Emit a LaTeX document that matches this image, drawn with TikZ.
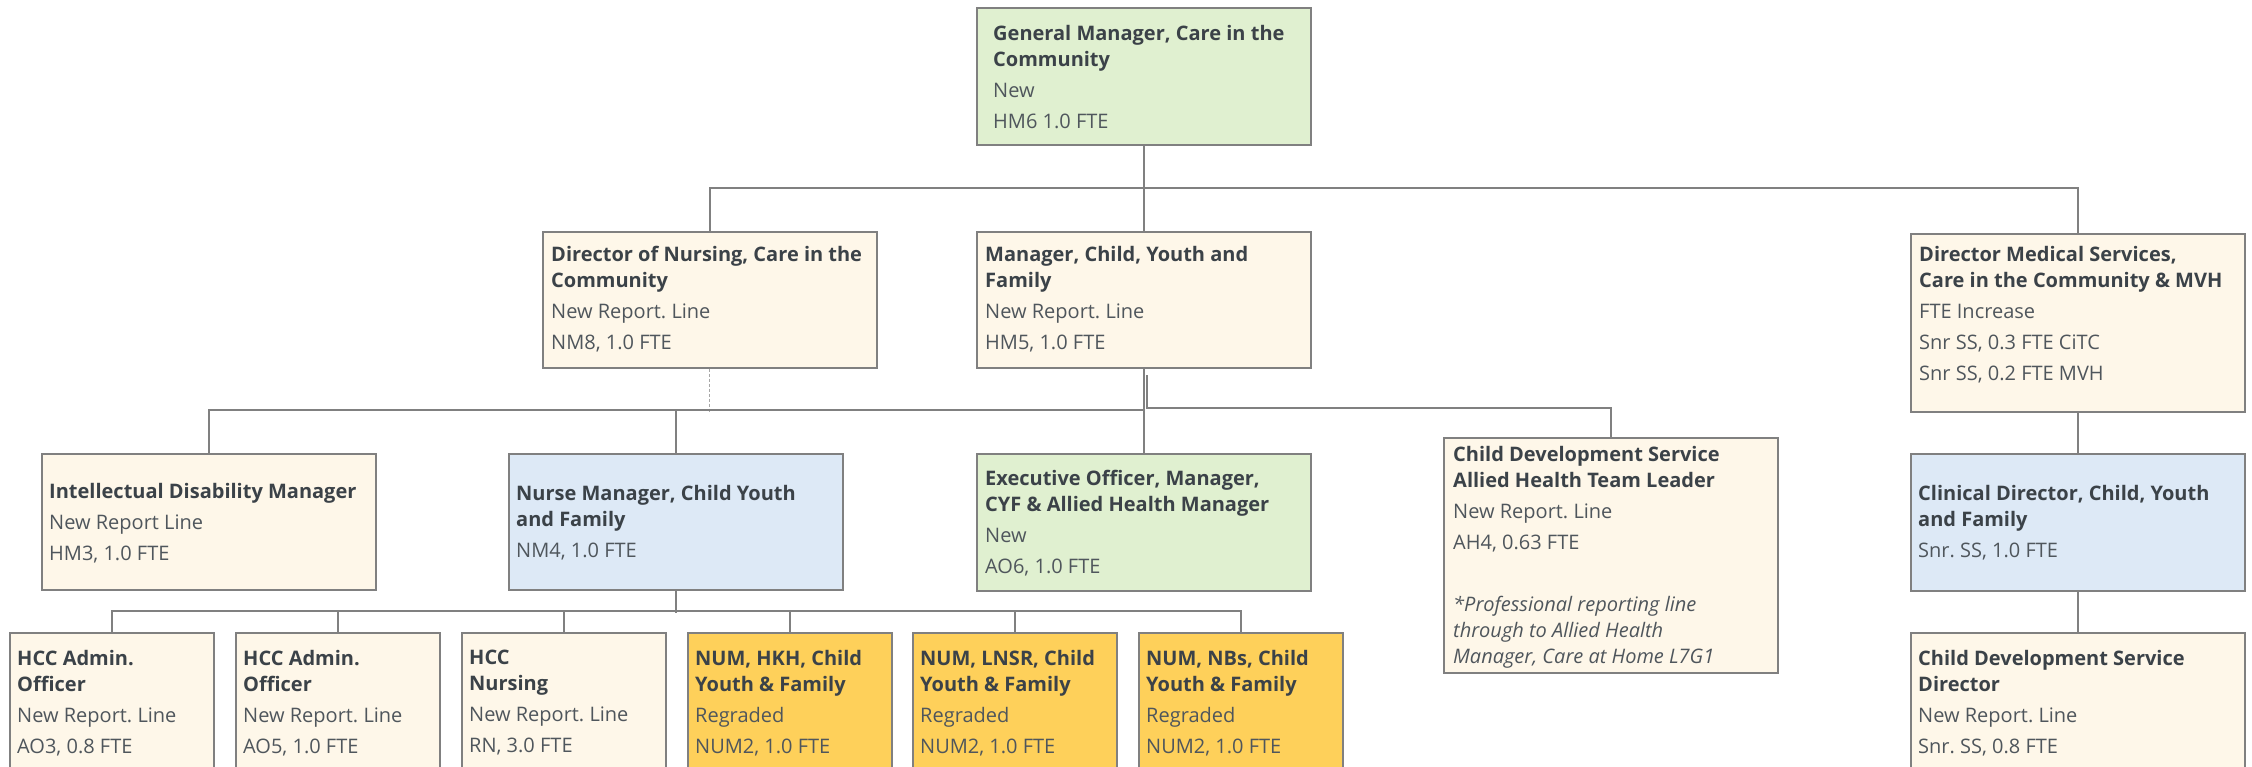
\documentclass[tikz,border=0pt]{standalone}
\usepackage{fontspec}
\setmainfont{Open Sans}
\frenchspacing
\definecolor{cream}{HTML}{FEF7E9}
\definecolor{lgreen}{HTML}{E0F0D0}
\definecolor{lblue}{HTML}{DDE9F6}
\definecolor{gold}{HTML}{FED05A}
\definecolor{bordergrey}{HTML}{808080}
\definecolor{headtext}{HTML}{3B4248}
\definecolor{bodytext}{HTML}{4F565C}
\tikzset{
  box/.style={draw=bordergrey, line width=1.6pt, inner sep=0pt, anchor=north west},
  txt/.style={anchor=north west, inner sep=0pt, align=left, text=bodytext, font=\fontsize{20}{26}\selectfont},
  conn/.style={draw=bordergrey, line width=1.6pt},
  dconn/.style={draw=bordergrey!70, line width=1.2pt, dashed, dash pattern=on 3pt off 2pt}
}
\newcommand\hd[1]{\textcolor{headtext}{\bfseries #1}}
\begin{document}
\begin{tikzpicture}[x=1pt,y=-1pt]
\useasboundingbox (0,0) rectangle (2252,766);
\clip (0,0) rectangle (2252,766);
% ---- boxes ----
\node[box, fill=lgreen, minimum width=334pt, minimum height=137pt] (gm) at (976,7) {};
\node[box, fill=cream, minimum width=334pt, minimum height=136pt] (don) at (542,231) {};
\node[box, fill=cream, minimum width=334pt, minimum height=136pt] (mgr) at (976,231) {};
\node[box, fill=cream, minimum width=334pt, minimum height=178pt] (dms) at (1910,233) {};
\node[box, fill=cream, minimum width=334pt, minimum height=136pt] (idm) at (41,453) {};
\node[box, fill=lblue, minimum width=334pt, minimum height=136pt] (nm) at (508,453) {};
\node[box, fill=lgreen, minimum width=334pt, minimum height=137pt] (exo) at (976,453) {};
\node[box, fill=cream, minimum width=334pt, minimum height=235pt] (cdsah) at (1443,437) {};
\node[box, fill=lblue, minimum width=334pt, minimum height=137pt] (cd) at (1910,453) {};
\node[box, fill=cream, minimum width=334pt, minimum height=160pt] (cdsd) at (1910,632) {};
\node[box, fill=cream, minimum width=204pt, minimum height=160pt] (h1) at (9,632) {};
\node[box, fill=cream, minimum width=204pt, minimum height=160pt] (h2) at (235,632) {};
\node[box, fill=cream, minimum width=204pt, minimum height=160pt] (h3) at (461,632) {};
\node[box, fill=gold, minimum width=204pt, minimum height=160pt] (n1) at (687,632) {};
\node[box, fill=gold, minimum width=204pt, minimum height=160pt] (n2) at (912,632) {};
\node[box, fill=gold, minimum width=204pt, minimum height=160pt] (n3) at (1138,632) {};
% ---- texts ----
\node[txt] (gm-t) at ([xshift=17pt,yshift=-18pt]gm.north west)
  {\hd{General Manager, Care in the}\\\hd{Community}\\[5pt]New\\[5pt]HM6 1.0 FTE};
\node[txt] (don-t) at ([xshift=9pt,yshift=-15pt]don.north west)
  {\hd{Director of Nursing, Care in the}\\\hd{Community}\\[5pt]New Report. Line\\[5pt]NM8, 1.0 FTE};
\node[txt] (mgr-t) at ([xshift=9pt,yshift=-15pt]mgr.north west)
  {\hd{Manager, Child, Youth and}\\\hd{Family}\\[5pt]New Report. Line\\[5pt]HM5, 1.0 FTE};
\node[txt] (dms-t) at ([xshift=9pt,yshift=-13pt]dms.north west)
  {\hd{Director Medical Services,}\\\hd{Care in the Community \& MVH}\\[5pt]FTE Increase\\[5pt]Snr SS, 0.3 FTE CiTC\\[5pt]Snr SS, 0.2 FTE MVH};
\node[txt] (idm-t) at ([xshift=8pt,yshift=-30pt]idm.north west)
  {\hd{Intellectual Disability Manager}\\[5pt]New Report Line\\[5pt]HM3, 1.0 FTE};
\node[txt] (nm-t) at ([xshift=8pt,yshift=-32pt]nm.north west)
  {\hd{Nurse Manager, Child Youth}\\\hd{and Family}\\[5pt]NM4, 1.0 FTE};
\node[txt] (exo-t) at ([xshift=9pt,yshift=-17pt]exo.north west)
  {\hd{Executive Officer, Manager,}\\\hd{CYF \& Allied Health Manager}\\[5pt]New\\[5pt]AO6, 1.0 FTE};
\node[txt] (cdsah-t) at ([xshift=10pt,yshift=-9pt]cdsah.north west)
  {\hd{Child Development Service}\\\hd{Allied Health Team Leader}\\[5pt]New Report. Line\\[5pt]AH4, 0.63 FTE\\[36pt]\itshape *Professional reporting line\\\itshape through to Allied Health\\\itshape Manager, Care at Home L7G1};
\node[txt] (cd-t) at ([xshift=8pt,yshift=-32pt]cd.north west)
  {\hd{Clinical Director, Child, Youth}\\\hd{and Family}\\[5pt]Snr. SS, 1.0 FTE};
\node[txt] (cdsd-t) at ([xshift=8pt,yshift=-18pt]cdsd.north west)
  {\hd{Child Development Service}\\\hd{Director}\\[5pt]New Report. Line\\[5pt]Snr. SS, 0.8 FTE};
\node[txt] (h1-t) at ([xshift=8pt,yshift=-18pt]h1.north west)
  {\hd{HCC Admin.}\\\hd{Officer}\\[5pt]New Report. Line\\[5pt]AO3, 0.8 FTE};
\node[txt] (h2-t) at ([xshift=8pt,yshift=-18pt]h2.north west)
  {\hd{HCC Admin.}\\\hd{Officer}\\[5pt]New Report. Line\\[5pt]AO5, 1.0 FTE};
\node[txt] (h3-t) at ([xshift=8pt,yshift=-18pt]h3.north west)
  {\hd{HCC}\\\hd{Nursing}\\[5pt]New Report. Line\\[5pt]RN, 3.0 FTE};
\node[txt] (n1-t) at ([xshift=8pt,yshift=-18pt]n1.north west)
  {\hd{NUM, HKH, Child}\\\hd{Youth \& Family}\\[5pt]Regraded\\[5pt]NUM2, 1.0 FTE};
\node[txt] (n2-t) at ([xshift=8pt,yshift=-18pt]n2.north west)
  {\hd{NUM, LNSR, Child}\\\hd{Youth \& Family}\\[5pt]Regraded\\[5pt]NUM2, 1.0 FTE};
\node[txt] (n3-t) at ([xshift=8pt,yshift=-18pt]n3.north west)
  {\hd{NUM, NBs, Child}\\\hd{Youth \& Family}\\[5pt]Regraded\\[5pt]NUM2, 1.0 FTE};
% ---- connectors ----
\draw[conn] (gm.south) -- (mgr.north);
\draw[conn] (don.north) -- ++(0,-43) -| (dms.north);
\draw[dconn] (don.south) -- ++(0,43);
\draw[conn] (mgr.south) -- (exo.north);
\draw[conn] (idm.north) -- ++(0,-43) -| (mgr.south);
\draw[conn] (nm.north) -- ++(0,-43);
\draw[conn] (cdsah.north) -- ++(0,-29) -| ([xshift=3pt,yshift=-6pt]mgr.south);
\draw[conn] (dms.south) -- (cd.north);
\draw[conn] (cd.south) -- (cdsd.north);
\draw[conn] (nm.south) -- ++(0,22);
\draw[conn] (h1.north) -- ++(0,-21) -| (n3.north);
\draw[conn] (h2.north) -- ++(0,-21);
\draw[conn] (h3.north) -- ++(0,-21);
\draw[conn] (n1.north) -- ++(0,-21);
\draw[conn] (n2.north) -- ++(0,-21);
\end{tikzpicture}
\end{document}
